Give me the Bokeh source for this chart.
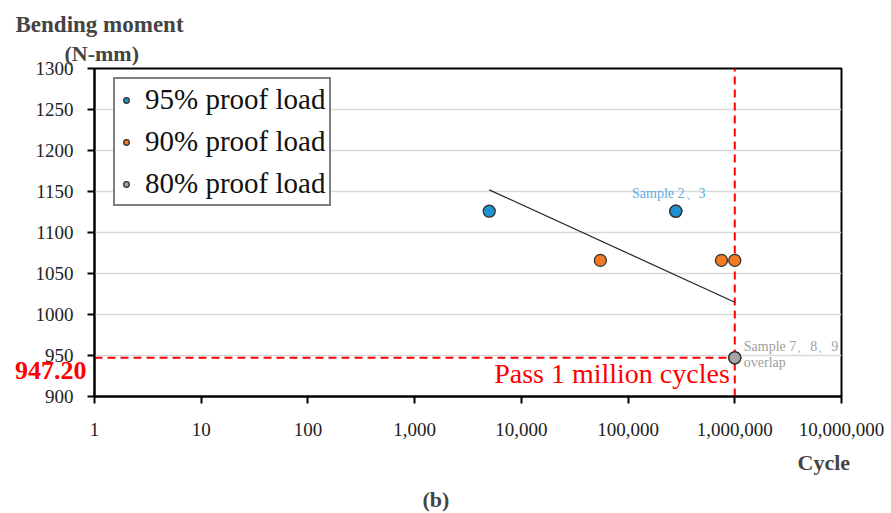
from bokeh.plotting import figure
from bokeh.models import (FixedTicker, NumeralTickFormatter, Label, Legend, LegendItem, Title,
                          LinearAxis)
from bokeh.embed import file_html
from bokeh.resources import INLINE

# ---- data ----
x95 = [5000, 280000, 280000]
y95 = [1126, 1126, 1126]
x90 = [55000, 750000, 1000000]
y90 = [1066, 1066, 1066]
x80 = [1000000, 1000000, 1000000]
y80 = [947.2, 947.2, 947.2]
trend_x = [5000, 1000000]
trend_y = [1152, 1015]
limit_cycles = 1000000
limit_moment = 947.2
x_ticks = [1, 10, 100, 1000, 10000, 100000, 1000000, 10000000]
y_ticks = [900, 950, 1000, 1050, 1100, 1150, 1200, 1250, 1300]

SERIF = "Liberation Serif"
BLUE, ORANGE, GRAY = "#1b93d2", "#f37a22", "#a5a5a5"

p = figure(width=889, height=513, x_axis_type="log", title=None,
           x_range=(1, 1e7), y_range=(900, 1300),
           output_backend="svg", toolbar_location=None,
           min_border_left=94, min_border_right=48,
           min_border_top=68, min_border_bottom=117)

p.outline_line_color = "black"
p.outline_line_width = 2
p.background_fill_color = "white"
p.border_fill_color = "white"
p.xgrid.visible = False
p.ygrid.grid_line_color = "#d9d9d9"
p.ygrid.grid_line_width = 1.5

p.xaxis.ticker = FixedTicker(ticks=x_ticks)
p.xaxis.formatter = NumeralTickFormatter(format="0,0")
p.yaxis.ticker = FixedTicker(ticks=y_ticks)
for ax in (p.xaxis[0], p.yaxis[0]):
    ax.axis_line_color = "black"
    ax.axis_line_width = 2
    ax.major_tick_line_color = "black"
    ax.major_tick_line_width = 2
    ax.major_tick_in = 0
    ax.major_tick_out = 7
    ax.minor_tick_line_color = None
    ax.major_label_text_font = SERIF
    ax.major_label_text_font_size = "19px"
    ax.major_label_text_color = "#222222"
p.yaxis.major_label_standoff = 14
p.xaxis.major_label_standoff = 19

# red value label on an extra left axis (placed outside the main one, pulled back in)
label_tick = limit_moment - 15.0
red_axis = LinearAxis(ticker=FixedTicker(ticks=[label_tick]),
                      major_label_overrides={label_tick: f"{limit_moment:.2f}"},
                      axis_line_color=None, major_tick_line_color=None,
                      minor_tick_line_color=None, major_tick_in=0, major_tick_out=0,
                      major_label_standoff=-54,
                      major_label_text_font=SERIF, major_label_text_font_size="26px",
                      major_label_text_font_style="bold", major_label_text_color="red")
p.add_layout(red_axis, "left")

# reference lines
p.line([limit_cycles, limit_cycles], [900, 1300], color="red", line_width=2, line_dash="8 5")
p.line([1, limit_cycles], [limit_moment, limit_moment], color="red", line_width=2, line_dash="8 5")

# trend line
p.line(trend_x, trend_y, color="#222222", line_width=1.2)

# points
r95 = p.scatter(x95, y95, size=12, fill_color=BLUE, line_color="#333333", line_width=1.3)
r90 = p.scatter(x90, y90, size=12, fill_color=ORANGE, line_color="#333333", line_width=1.3)
r80 = p.scatter(x80, y80, size=12, fill_color=GRAY, line_color="#333333", line_width=1.3)

legend = Legend(items=[LegendItem(label="95% proof load", renderers=[r95]),
                       LegendItem(label="90% proof load", renderers=[r90]),
                       LegendItem(label="80% proof load", renderers=[r80])],
                location=(19, 190))
legend.label_text_font = SERIF
legend.label_text_font_size = "29px"
legend.label_text_color = "#111111"
legend.border_line_color = "black"
legend.border_line_width = 2
legend.background_fill_alpha = 1
legend.glyph_width = 14
legend.glyph_height = 14
legend.label_standoff = 12
legend.spacing = 9
legend.padding = 4
legend.margin = 0
p.add_layout(legend, "center")

# annotations
p.add_layout(Label(x=280000, y=1126, text="Sample 2、3", text_font=SERIF,
                   text_font_size="14px", text_color="#5aade3", text_align="center",
                   text_baseline="alphabetic", x_offset=-7, y_offset=18))
p.add_layout(Label(x=limit_cycles, y=limit_moment, text="Sample 7、8、9", text_font=SERIF,
                   text_font_size="14px", text_color="#a0a0a0", text_align="left",
                   text_baseline="alphabetic", x_offset=9, y_offset=11))
p.add_layout(Label(x=limit_cycles, y=limit_moment, text="overlap", text_font=SERIF,
                   text_font_size="14px", text_color="#a0a0a0", text_align="left",
                   text_baseline="alphabetic", x_offset=9, y_offset=-5))
p.add_layout(Label(x=limit_cycles, y=limit_moment, text="Pass 1 million cycles", text_font=SERIF,
                   text_font_size="28px", text_color="red", text_align="right",
                   text_baseline="alphabetic", x_offset=-5, y_offset=-16))

# titles outside the frame
p.add_layout(Title(text="(N-mm)", text_font=SERIF, text_font_size="22px", text_font_style="bold",
                   align="left", offset=-30, standoff=5), "above")
p.add_layout(Title(text="Bending moment", text_font=SERIF, text_font_size="23px",
                   text_font_style="bold", align="left", offset=-79, standoff=0), "above")
p.add_layout(Title(text="Cycle", text_font=SERIF, text_font_size="22px", text_font_style="bold",
                   align="left", offset=703, standoff=19), "below")
p.add_layout(Title(text="(b)", text_font=SERIF, text_font_size="22px", text_font_style="bold",
                   align="left", offset=328, standoff=0), "below")

open("out.html", "w").write(file_html(p, INLINE))
